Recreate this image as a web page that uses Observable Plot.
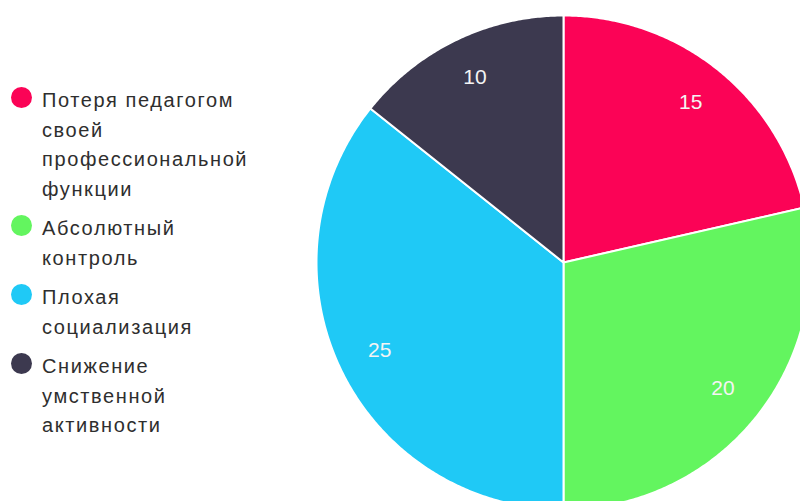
<!DOCTYPE html>
<html><head><meta charset="utf-8">
<script src="https://cdn.jsdelivr.net/npm/d3@7"></script>
<script src="https://cdn.jsdelivr.net/npm/@observablehq/plot@0.6"></script>
<style>
html,body{margin:0;padding:0;background:#fff;}
#wrap{position:relative;width:800px;height:501px;overflow:hidden;font-family:"Liberation Sans",Arial,sans-serif;}
#legend{position:absolute;left:11px;top:86px;color:#2e2e2e;font-size:20px;line-height:29.5px;letter-spacing:1.6px;}
.item{display:flex;align-items:flex-start;margin-bottom:10px;}
.sw{width:21px;height:21px;border-radius:50%;margin-top:1px;margin-right:10px;flex:none;}
</style></head>
<body><div id="wrap"><div id="chart"></div><div id="legend"></div></div>
<script>
const categories = ["Потеря педагогом своей профессиональной функции","Абсолютный контроль","Плохая социализация","Снижение умственной активности"];
const legendLines = [["Потеря педагогом","своей","профессиональной","функции"],["Абсолютный","контроль"],["Плохая","социализация"],["Снижение","умственной","активности"]];
const values = [15,20,25,10];
const colors = ["#fb0356","#63f55f","#1fc9f6","#3c394f"];

const total = d3.sum(values);
let acc = 0;
const slices = values.map((v,i)=>{const a0=acc/total*2*Math.PI; acc+=v; const a1=acc/total*2*Math.PI; return {cat:categories[i], value:v, a0, a1, color:colors[i]};});
const pts = [];
for (const s of slices) {
  pts.push({cat:s.cat, x:0, y:0, color:s.color});
  const n = Math.max(2, Math.ceil((s.a1-s.a0)/(Math.PI/360)));
  for (let k=0;k<=n;k++){const a=s.a0+(s.a1-s.a0)*k/n; pts.push({cat:s.cat,x:Math.sin(a),y:Math.cos(a),color:s.color});}
}
const labels = slices.map(s=>{const m=(s.a0+s.a1)/2; return {x:0.826*Math.sin(m), y:0.826*Math.cos(m), text:String(s.value)};});

const W=800,H=501,cx=563,cy=262,R=247;
const plot = Plot.plot({
  width:W, height:H, margin:0,
  x:{domain:[-cx/R,(W-cx)/R], axis:null},
  y:{domain:[(cy-H)/R, cy/R], axis:null},
  style:{fontFamily:"Liberation Sans, Arial, sans-serif", overflow:"hidden"},
  marks:[
    Plot.line(pts,{x:"x",y:"y",z:"cat",fill:"color",stroke:"white",strokeWidth:2,strokeLinejoin:"round",curve:"linear-closed"}),
    Plot.text(labels,{x:"x",y:"y",text:"text",fill:"#f4f4f4",fontSize:21,dy:-1})
  ]
});
document.getElementById("chart").appendChild(plot);
const lg = document.getElementById("legend");
legendLines.forEach((lines,i)=>{
  const it=document.createElement("div");it.className="item";
  const sw=document.createElement("div");sw.className="sw";sw.style.background=colors[i];
  const tx=document.createElement("div");tx.innerHTML=lines.join("<br>");
  it.appendChild(sw);it.appendChild(tx);lg.appendChild(it);
});
</script></body></html>
